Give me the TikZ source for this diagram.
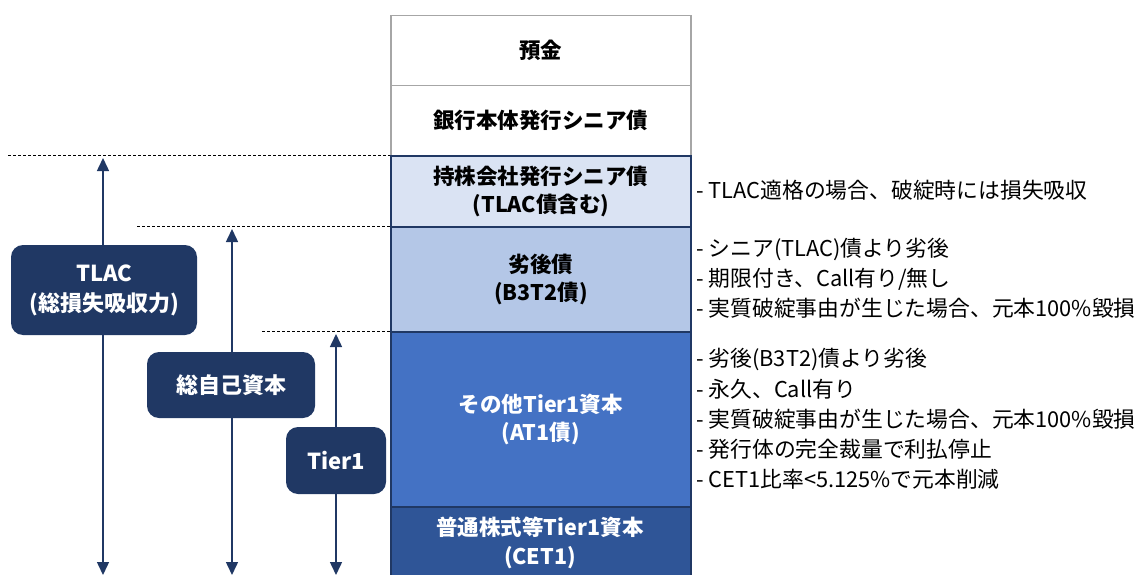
\documentclass[tikz,border=0pt]{standalone}
\usepackage{fontspec}
\setmainfont{Noto Sans CJK JP}
\usetikzlibrary{arrows.meta}
\definecolor{navy}{HTML}{203864}
\definecolor{lightfill}{HTML}{DAE3F3}
\definecolor{midfill}{HTML}{B4C7E7}
\definecolor{bluefill}{HTML}{4472C4}
\definecolor{darkfill}{HTML}{2F5597}
\definecolor{grayborder}{HTML}{A6A6A6}
\tikzset{
  rowtext/.style={font=\fontsize{21.5}{28.5}\selectfont\bfseries},
  row/.style={rectangle, anchor=north west, minimum width=300pt, inner sep=0pt, align=center, rowtext},
  grayrow/.style={row, draw=grayborder, line width=1.5pt, fill=white, text=black},
  navyrow/.style={row, draw=navy, line width=1.8pt},
  label/.style={rectangle, rounded corners=12pt, fill=navy, text=white, align=center,
    font=\fontsize{22}{30}\selectfont\bfseries, inner sep=0pt},
  arr/.style={navy, line width=1.5pt, -{Triangle[width=12pt,length=13pt]}},
  level/.style={black, line width=0.9pt, dash pattern=on 3pt off 2pt},
  note/.style={anchor=west, align=left, font=\fontsize{21.8}{30.2}\selectfont, inner sep=0pt}
}
\begin{document}
\begin{tikzpicture}[x=1pt,y=-1pt]
\useasboundingbox (0,0) rectangle (1143,575);
% stack
\node[grayrow, minimum height=70pt] (dep) at (390,15) {預金};
\node[grayrow, minimum height=70pt] (senior) at (390,85) {銀行本体発行シニア債};
\node[navyrow, fill=lightfill, minimum height=71pt] (hold) at (390,155) {持株会社発行シニア債\\(TLAC債含む)};
\node[navyrow, fill=midfill, minimum height=105pt] (sub) at (390,226) {劣後債\\(B3T2債)};
\node[navyrow, fill=bluefill, text=white, minimum height=175pt] (at1) at (390,331) {その他Tier1資本\\(AT1債)};
\node[navyrow, fill=darkfill, text=white, minimum height=80pt, anchor=north west] (cet) at (390,506) {};
\node[rowtext, text=white, align=center, inner sep=0pt] (cettxt) at (540,543) {普通株式等Tier1資本\\(CET1)};
% level lines
\coordinate (l1) at (8,155);
\coordinate (l2) at (137,226);
\coordinate (l3) at (262,331);
\draw[level] (l1) -- (hold.north west);
\draw[level] (l2) -- (sub.north west);
\draw[level] (l3) -- (at1.north west);
% label boxes
\node[label, minimum width=186pt, minimum height=90pt] (tlac) at (104,290) {TLAC\\(総損失吸収力)};
\node[label, minimum width=168pt, minimum height=66pt] (total) at (231,385) {総自己資本};
\node[label, minimum width=100pt, minimum height=67pt] (tier) at (336,460.5) {Tier1};
% arrows
\coordinate (tlacTop) at (103,158);
\coordinate (tlacBot) at (103,575);
\coordinate (totTop) at (232,229);
\coordinate (totBot) at (232,575);
\coordinate (tierTop) at (336,334);
\coordinate (tierBot) at (336,575);
\draw[arr] (tlac.north -| tlacTop) -- (tlacTop);
\draw[arr] (tlac.south -| tlacBot) -- (tlacBot);
\draw[arr] (total.north -| totTop) -- (totTop);
\draw[arr] (total.south -| totBot) -- (totBot);
\draw[arr] (tier.north -| tierTop) -- (tierTop);
\draw[arr] (tier.south -| tierBot) -- (tierBot);
% notes
\node[note] (n1) at (696,190) {- TLAC適格の場合、破綻時には損失吸収};
\node[note] (n2) at (696,278) {- シニア(TLAC)債より劣後\\- 期限付き、Call有り/無し\\- 実質破綻事由が生じた場合、元本100\%毀損};
\node[note] (n3) at (696,419) {- 劣後(B3T2)債より劣後\\- 永久、Call有り\\- 実質破綻事由が生じた場合、元本100\%毀損\\- 発行体の完全裁量で利払停止\\- CET1比率<5.125\%で元本削減};
\end{tikzpicture}
\end{document}
